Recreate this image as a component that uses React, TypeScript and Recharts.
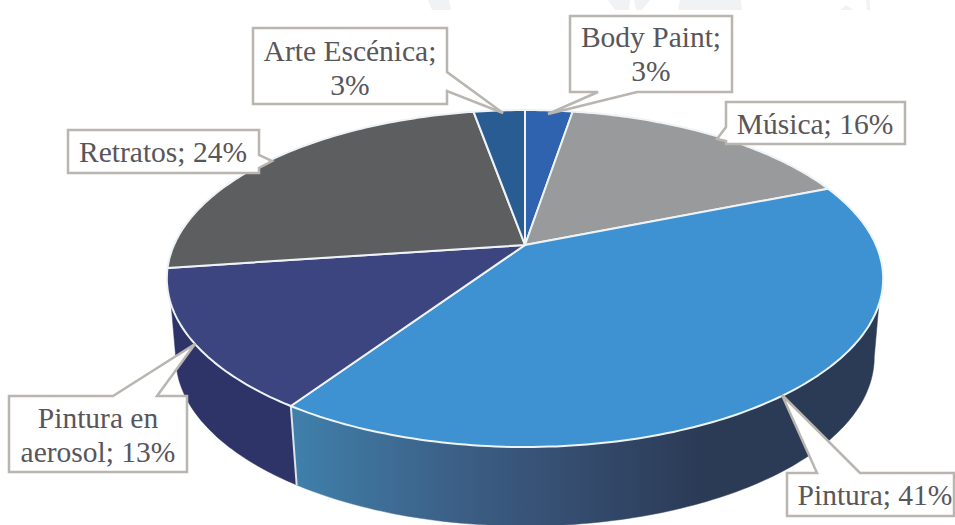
import React from 'react';
import { PieChart, Pie } from 'recharts';

const categories = ['Body Paint', 'Música', 'Pintura', 'Pintura en aerosol', 'Retratos', 'Arte Escénica'];
const shares = [2.6, 16.3, 40.5, 13.4, 24.4, 2.8];
const topColors = ['#2f63b0', '#989a9b', '#3f92d2', '#3c4580', '#5d5e60', '#2a5c94'];
const wallColors = [null, null, 'url(#wallPintura)', '#2f3468', null, null];

const pieData = categories.map((name, i) => ({
  name,
  value: shares[i],
  fill: topColors[i],
  wall: wallColors[i],
}));

// callout outlines, same order as categories
const callouts = [
  { wrap: true, x: 651, y: 47, outline: '570,16 732,16 732,92 637,92 548,114 598,92 570,92' },
  { wrap: false, x: 815, y: 134, outline: '726,102 905,102 905,144 726,144 726,141 717,139 726,127' },
  { wrap: false, x: 875, y: 505, outline: '787,473 817,473 782,395 860,473 954,473 954,516 787,516' },
  { wrap: true, x: 98, y: 428, outline: '9,396 113,396 195,344 157,396 187,396 187,472 9,472' },
  { wrap: false, x: 163, y: 162, outline: '68,130 259,130 259,155 272,161 259,168 259,173 68,173' },
  { wrap: true, x: 350, y: 61, outline: '253,28 447,28 447,72 503,113 447,91 447,104 253,104' },
];

// faint scanned watermark along the top edge
const watermark = [
  '428,0 449,0 451,10 432,10',
  '608,0 630,0 629,10 615,10',
  '634,0 650,0 642,10 636,10',
  '680,0 741,0 742,10 678,10',
  '840,10 846,5 853,10',
  '866,0 870,0 870,10 867,10',
];

// perspective of the tilted disc
const TILT = 0.199;
const SQUASH = 0.461;
const DEPTH = 79;
const BOTTOM_SCALE = 0.975;
const RAD = Math.PI / 180;
const WALL_TOP_FROM = 110;
const WALL_TOP_TO = 250;
const WALL_BOTTOM_FROM = 101.5;
const WALL_BOTTOM_TO = 258.5;

const project = (cx: number, cy: number, r: number, deg: number) => {
  const u = Math.sin(deg * RAD);
  const v = -Math.cos(deg * RAD);
  const d = 1 - TILT * v;
  return { x: cx + (r * u) / d, y: cy + (r * SQUASH * v) / d };
};

const arc = (cx: number, cy: number, r: number, from: number, to: number) => {
  const pts = [];
  const n = Math.max(2, Math.ceil(Math.abs(to - from)));
  for (let i = 0; i <= n; i++) pts.push(project(cx, cy, r, from + ((to - from) * i) / n));
  return pts;
};

const toPath = (pts: { x: number; y: number }[]) =>
  pts.map((p, i) => `${i ? 'L' : 'M'}${p.x.toFixed(1)},${p.y.toFixed(1)}`).join(' ') + ' Z';

const TopSlice = (props: any) => {
  const { cx, cy, outerRadius, startAngle, endAngle, fill } = props;
  const from = 90 - startAngle;
  const to = 90 - endAngle;
  const d = toPath([{ x: cx, y: cy }, ...arc(cx, cy, outerRadius, from, to)]);
  return <path d={d} fill={fill} stroke="#eef3f6" strokeWidth={2} strokeLinejoin="round" />;
};

const WallSlice = (props: any) => {
  const { cx, cy, outerRadius, startAngle, endAngle, wall } = props;
  if (!wall) return <g />;
  const from = 90 - startAngle;
  const to = 90 - endAngle;
  const top = arc(cx, cy, outerRadius, Math.max(from, WALL_TOP_FROM), Math.min(to, WALL_TOP_TO));
  const bottomTo = to > 240 ? WALL_BOTTOM_TO : to;
  const bottom = arc(cx, cy, outerRadius, Math.max(from, WALL_BOTTOM_FROM), bottomTo)
    .map((p) => ({ x: cx + (p.x - cx) * BOTTOM_SCALE, y: p.y + DEPTH }))
    .reverse();
  return <path d={toPath([...top, ...bottom])} fill={wall} stroke={wall} strokeWidth={0.5} />;
};

// white seam between the two front walls
const Seam = (props: any) => {
  const { cx, cy, outerRadius, startAngle } = props;
  const from = 90 - startAngle;
  if (from < 200 || from > 230) return <g />;
  const p = project(cx, cy, outerRadius, from);
  const q = { x: cx + (p.x - cx) * BOTTOM_SCALE, y: p.y + DEPTH };
  return <path d={`M${p.x},${p.y} L${q.x},${q.y}`} stroke="#dbe5ec" strokeWidth={2} fill="none" />;
};

const renderCallout = (props: any) => {
  const { index, name, value } = props;
  const c = callouts[index];
  const words = `${name}; ${Math.round(value)}%`.split(' ');
  const lines = c.wrap ? [words.slice(0, 2).join(' '), words.slice(2).join(' ')] : [words.join(' ')];
  return (
    <g key={name}>
      <polygon points={c.outline} fill="#ffffff" stroke="#b9b5b1" strokeWidth={2.5} />
      {lines.map((line, i) => (
        <text
          key={line}
          x={c.x}
          y={c.y + i * 34}
          textAnchor="middle"
          fontFamily="'Liberation Serif', serif"
          fontSize={29.5}
          fill="#58565a"
        >
          {line}
        </text>
      ))}
    </g>
  );
};

export default function App() {
  return (
    <div style={{ position: 'absolute', left: 0, top: 0, width: 955, height: 525, background: '#fff', overflow: 'hidden' }}>
      <PieChart width={955} height={525} margin={{ top: 0, right: 0, bottom: 0, left: 0 }}>
        <defs>
          <linearGradient id="wallPintura" gradientUnits="userSpaceOnUse" x1="293" y1="0" x2="700" y2="0">
            <stop offset="0%" stopColor="#3f80ab" />
            <stop offset="40%" stopColor="#3c5f86" />
            <stop offset="75%" stopColor="#33496a" />
            <stop offset="100%" stopColor="#2b3b56" />
          </linearGradient>
        </defs>
        {watermark.map((pts) => (
          <polygon key={pts} points={pts} fill="#f1f2f4" />
        ))}
        <Pie
          data={pieData}
          dataKey="value"
          nameKey="name"
          cx={525}
          cy={245}
          outerRadius={351}
          startAngle={90}
          endAngle={-270}
          stroke="none"
          shape={WallSlice}
          isAnimationActive={false}
        />
        <Pie
          data={pieData}
          dataKey="value"
          nameKey="name"
          cx={525}
          cy={245}
          outerRadius={351}
          startAngle={90}
          endAngle={-270}
          stroke="none"
          shape={Seam}
          isAnimationActive={false}
        />
        <Pie
          data={pieData}
          dataKey="value"
          nameKey="name"
          cx={525}
          cy={245}
          outerRadius={351}
          startAngle={90}
          endAngle={-270}
          stroke="none"
          shape={TopSlice}
          label={renderCallout}
          labelLine={false}
          isAnimationActive={false}
        />
      </PieChart>
    </div>
  );
}
